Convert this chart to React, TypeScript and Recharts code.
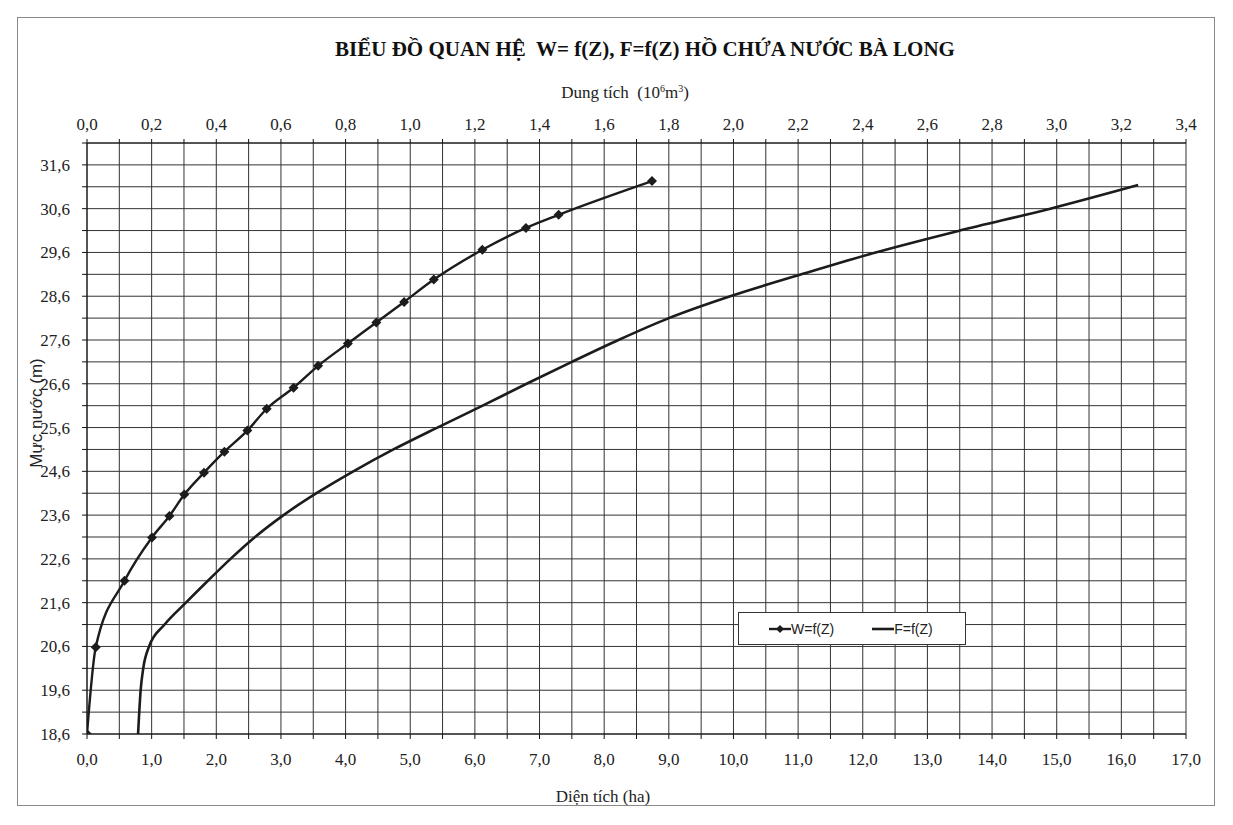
import React from "react";
import { LineChart, Line, XAxis, YAxis, CartesianGrid } from "recharts";

// W = f(Z): mực nước (m) và dung tích (10^6 m3)
const levelW = [18.6, 20.58, 22.1, 23.09, 23.58, 24.07, 24.57, 25.05, 25.53, 26.03, 26.51, 27.01, 27.52, 28.0, 28.47, 28.98, 29.66, 30.16, 30.46, 31.23];
const volume = [0, 0.027, 0.116, 0.201, 0.255, 0.301, 0.362, 0.425, 0.496, 0.556, 0.639, 0.715, 0.807, 0.895, 0.981, 1.073, 1.223, 1.358, 1.459, 1.748];

// F = f(Z): mực nước (m) và diện tích (ha)
const levelF = [18.6, 19.6, 20.1, 20.6, 21.1, 21.6, 22.1, 22.6, 23.1, 23.6, 24.1, 24.6, 25.1, 25.6, 26.1, 26.6, 27.1, 27.6, 28.1, 28.6, 29.1, 29.6, 30.1, 30.6, 31.14];
const area = [0.79, 0.83, 0.87, 0.96, 1.2, 1.53, 1.87, 2.22, 2.6, 3.04, 3.55, 4.12, 4.74, 5.42, 6.12, 6.8, 7.5, 8.22, 9.0, 9.95, 11.05, 12.2, 13.5, 14.9, 16.26];

// ticks (grid lines) and labelled ticks
const areaTicks = [0, 0.5, 1, 1.5, 2, 2.5, 3, 3.5, 4, 4.5, 5, 5.5, 6, 6.5, 7, 7.5, 8, 8.5, 9, 9.5, 10, 10.5, 11, 11.5, 12, 12.5, 13, 13.5, 14, 14.5, 15, 15.5, 16, 16.5, 17];
const areaLabels = [0, 1, 2, 3, 4, 5, 6, 7, 8, 9, 10, 11, 12, 13, 14, 15, 16, 17];
const volumeTicks = [0, 0.1, 0.2, 0.3, 0.4, 0.5, 0.6, 0.7, 0.8, 0.9, 1.0, 1.1, 1.2, 1.3, 1.4, 1.5, 1.6, 1.7, 1.8, 1.9, 2.0, 2.1, 2.2, 2.3, 2.4, 2.5, 2.6, 2.7, 2.8, 2.9, 3.0, 3.1, 3.2, 3.3, 3.4];
const volumeLabels = [0, 0.2, 0.4, 0.6, 0.8, 1.0, 1.2, 1.4, 1.6, 1.8, 2.0, 2.2, 2.4, 2.6, 2.8, 3.0, 3.2, 3.4];
const levelTicks = [18.6, 19.1, 19.6, 20.1, 20.6, 21.1, 21.6, 22.1, 22.6, 23.1, 23.6, 24.1, 24.6, 25.1, 25.6, 26.1, 26.6, 27.1, 27.6, 28.1, 28.6, 29.1, 29.6, 30.1, 30.6, 31.1, 31.6, 32.1];
const levelLabels = [18.6, 19.6, 20.6, 21.6, 22.6, 23.6, 24.6, 25.6, 26.6, 27.6, 28.6, 29.6, 30.6, 31.6];

const wData = levelW.map((z, i) => ({ z, w: volume[i] }));
const fData = levelF.map((z, i) => ({ z, f: area[i] }));

const label = (list: number[]) => (v: number) =>
  list.some((l) => Math.abs(l - v) < 1e-6) ? v.toFixed(1).replace(".", ",") : "";

const serif = "'Liberation Serif', 'Times New Roman', serif";
const sans = "'Liberation Sans', Arial, sans-serif";
const ink = "#1c1c1c";
const tickStyle = { fontSize: 17, fill: "#222", fontFamily: serif };

const Diamond = (props: any) => {
  const { cx, cy } = props;
  if (cx == null || cy == null) return null;
  const r = 5;
  return <polygon points={`${cx},${cy - r} ${cx + r},${cy} ${cx},${cy + r} ${cx - r},${cy}`} fill={ink} />;
};

export default function App() {
  return (
    <div style={{ position: "relative", width: 1217, height: 798, background: "#fff" }}>
      <div style={{ position: "absolute", left: 9, top: 9, width: 1198, height: 789, border: "1px solid #8a8a8a", boxSizing: "border-box" }} />
      <LineChart width={1217} height={798} margin={{ top: 105, right: 39, bottom: 42, left: 19 }}>
        <CartesianGrid xAxisId="bottom" yAxisId="left" stroke="#333" strokeWidth={1} />
        <XAxis
          xAxisId="bottom"
          type="number"
          dataKey="f"
          orientation="bottom"
          domain={[0, 17]}
          ticks={areaTicks}
          interval={0}
          allowDataOverflow
          height={30}
          tickFormatter={label(areaLabels)}
          tick={tickStyle}
          tickSize={5}
          tickMargin={14}
          stroke="#111"
        />
        <XAxis
          xAxisId="top"
          type="number"
          dataKey="w"
          orientation="top"
          domain={[0, 3.4]}
          ticks={volumeTicks}
          interval={0}
          allowDataOverflow
          height={30}
          tickFormatter={label(volumeLabels)}
          tick={tickStyle}
          tickSize={4}
          tickMargin={9}
          stroke="#111"
        />
        <YAxis
          yAxisId="left"
          type="number"
          dataKey="z"
          domain={[18.6, 32.1]}
          ticks={levelTicks}
          interval={0}
          allowDataOverflow
          width={60}
          tickFormatter={label(levelLabels)}
          tick={tickStyle}
          tickSize={5}
          tickMargin={12}
          stroke="#111"
        />
        <Line
          xAxisId="bottom"
          yAxisId="left"
          data={fData}
          dataKey="z"
          name="F=f(Z)"
          type="monotone"
          stroke={ink}
          strokeWidth={2.6}
          dot={false}
          isAnimationActive={false}
        />
        <Line
          xAxisId="top"
          yAxisId="left"
          data={wData}
          dataKey="z"
          name="W=f(Z)"
          type="monotone"
          stroke={ink}
          strokeWidth={2.4}
          dot={<Diamond />}
          isAnimationActive={false}
        />
      </LineChart>

      <div style={{ position: "absolute", left: 637, top: 41, transform: "translate(-50%, -50%)", whiteSpace: "nowrap", fontFamily: serif, fontWeight: "bold", fontSize: 21, color: "#111" }}>
        BIỂU ĐỒ QUAN HỆ&nbsp; W= f(Z), F=f(Z) HỒ CHỨA NƯỚC BÀ LONG
      </div>
      <div style={{ position: "absolute", left: 617, top: 85, transform: "translate(-50%, -50%)", whiteSpace: "nowrap", fontFamily: serif, fontSize: 17, color: "#222" }}>
        Dung tích&nbsp; (10<sup style={{ fontSize: 10 }}>6</sup>m<sup style={{ fontSize: 10 }}>3</sup>)
      </div>
      <div style={{ position: "absolute", left: 595, top: 789, transform: "translate(-50%, -50%)", whiteSpace: "nowrap", fontFamily: serif, fontSize: 17, color: "#222" }}>
        Diện tích (ha)
      </div>
      <div style={{ position: "absolute", left: 29, top: 405, transform: "translate(-50%, -50%) rotate(-90deg)", whiteSpace: "nowrap", fontFamily: sans, fontSize: 17, color: "#222" }}>
        Mực nước (m)
      </div>

      <div style={{ position: "absolute", left: 730, top: 604, width: 228, height: 33, border: "1px solid #333", background: "#fff", boxSizing: "border-box", fontFamily: sans, fontSize: 14, color: "#222", display: "flex", alignItems: "center" }}>
        <svg width={22} height={12} style={{ marginLeft: 30 }}>
          <line x1={0} y1={6} x2={22} y2={6} stroke={ink} strokeWidth={2.4} />
          <polygon points="11,2 15,6 11,10 7,6" fill={ink} />
        </svg>
        <span>W=f(Z)</span>
        <svg width={22} height={12} style={{ marginLeft: 38 }}>
          <line x1={0} y1={6} x2={22} y2={6} stroke={ink} strokeWidth={2.6} />
        </svg>
        <span>F=f(Z)</span>
      </div>
    </div>
  );
}
